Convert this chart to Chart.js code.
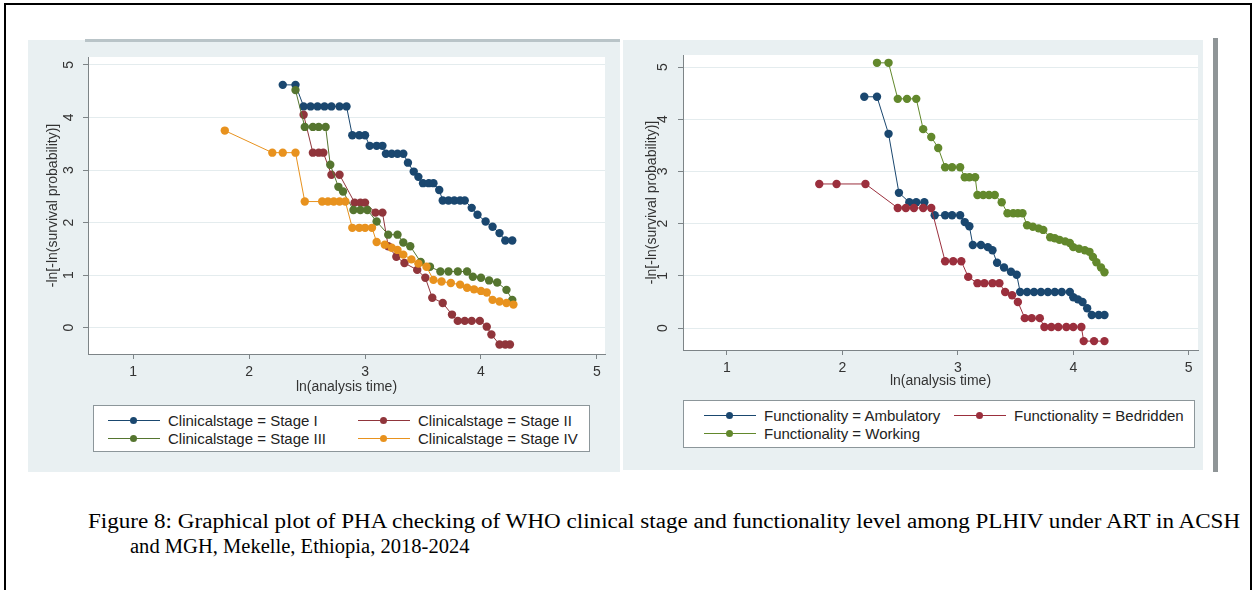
<!DOCTYPE html>
<html lang="en">
<head>
<meta charset="UTF-8">
<title>PHA check plots</title>
<script src="https://cdn.jsdelivr.net/npm/chart.js"></script>
<style>
  body { margin: 0; width: 1259px; height: 590px; background: #fff; position: relative; overflow: hidden;
         font-family: "Liberation Sans", Arial, sans-serif; }
  .frame { position: absolute; left: 4px; top: 3px; width: 1244px; height: 620px; border: 2px solid #000; }
  .panel { position: absolute; background: #e9f0f2; }
  .panel canvas { position: absolute; left: 0; top: 0; }
  .legend { position: absolute; background: #fff; border: 1px solid #8c969a; box-sizing: border-box; font-size: 15px; color: #222; }
  .item { position: absolute; height: 17px; line-height: 17px; white-space: nowrap; }
  .sym { position: absolute; left: 0; top: 0; width: 52px; height: 17px; }
  .sym .ln { position: absolute; left: 0; right: 0; top: 8px; height: 1px; }
  .sym .dt { position: absolute; left: 22px; top: 5px; width: 7px; height: 7px; border-radius: 50%; }
  .item span { position: absolute; left: 60px; top: 0; }
  .caption { position: absolute; font-family: "Liberation Serif", "Times New Roman", serif; font-size: 20px;
             line-height: 24px; color: #000; white-space: nowrap; transform-origin: 0 0; }
</style>
</head>
<body>
  <div class="frame"></div>

  <div class="panel" style="left:28px; top:40px; width:592px; height:432px;">
    <canvas id="stageChart" width="592" height="360"></canvas>
    <div class="legend" id="stageLegend" style="left:65px; top:365px; width:497px; height:47px;"></div>
  </div>
  <div style="position:absolute; left:85px; top:39px; width:535px; height:3px; background:#b9c4c8;"></div>

  <div class="panel" style="left:623px; top:40px; width:580px; height:430px;">
    <canvas id="funcChart" width="580" height="360"></canvas>
    <div class="legend" id="funcLegend" style="left:60px; top:360px; width:512px; height:48px;"></div>
  </div>
  <div style="position:absolute; left:1213px; top:38px; width:5px; height:434px; background:#8f9597;"></div>

  <div class="caption" id="cap1" style="left:88px; top:509px;">Figure 8: Graphical plot of PHA checking of WHO clinical stage and functionality level among PLHIV under ART in ACSH</div>
  <div class="caption" id="cap2" style="left:130px; top:534px;">and MGH, Mekelle, Ethiopia, 2018-2024</div>

<script>
// axis ticks
const xTicks = [1, 2, 3, 4, 5];
const yTicks = [0, 1, 2, 3, 4, 5];

// left panel: WHO clinical stage
const stageLabels = ['Clinicalstage = Stage I', 'Clinicalstage = Stage II', 'Clinicalstage = Stage III', 'Clinicalstage = Stage IV'];
const stage1X = [2.29, 2.40, 2.47, 2.53, 2.59, 2.65, 2.71, 2.78, 2.84, 2.89, 2.95, 3.00, 3.04, 3.10, 3.15, 3.18, 3.23, 3.28, 3.33, 3.37, 3.42, 3.46, 3.50, 3.55, 3.59, 3.64, 3.67, 3.72, 3.77, 3.82, 3.86, 3.92, 3.97, 4.04, 4.10, 4.16, 4.21, 4.27];
const stage1Y = [4.62, 4.62, 4.21, 4.21, 4.21, 4.21, 4.21, 4.21, 4.21, 3.66, 3.66, 3.66, 3.46, 3.46, 3.46, 3.31, 3.31, 3.31, 3.31, 3.14, 2.97, 2.87, 2.75, 2.75, 2.75, 2.62, 2.42, 2.42, 2.42, 2.42, 2.42, 2.28, 2.15, 2.02, 1.92, 1.80, 1.66, 1.66];
const stage2X = [2.47, 2.55, 2.60, 2.64, 2.71, 2.78, 2.91, 2.96, 3.00, 3.09, 3.15, 3.20, 3.27, 3.34, 3.45, 3.52, 3.58, 3.67, 3.75, 3.80, 3.86, 3.92, 3.99, 4.05, 4.09, 4.16, 4.21, 4.25];
const stage2Y = [4.05, 3.33, 3.33, 3.33, 2.91, 2.91, 2.38, 2.38, 2.38, 2.19, 2.19, 1.55, 1.35, 1.23, 1.10, 0.95, 0.57, 0.47, 0.25, 0.13, 0.13, 0.13, 0.13, 0.02, -0.13, -0.32, -0.32, -0.32];
const stage3X = [2.40, 2.48, 2.55, 2.60, 2.66, 2.70, 2.77, 2.81, 2.90, 2.96, 3.02, 3.10, 3.20, 3.28, 3.33, 3.39, 3.48, 3.56, 3.65, 3.72, 3.80, 3.88, 3.93, 4.00, 4.07, 4.14, 4.22, 4.27];
const stage3Y = [4.52, 3.82, 3.82, 3.82, 3.82, 3.10, 2.68, 2.59, 2.24, 2.24, 2.24, 2.02, 1.77, 1.77, 1.62, 1.55, 1.25, 1.16, 1.07, 1.07, 1.07, 1.07, 0.97, 0.95, 0.90, 0.86, 0.72, 0.53];
const stage4X = [1.79, 2.20, 2.29, 2.40, 2.48, 2.63, 2.68, 2.73, 2.78, 2.83, 2.89, 2.95, 3.00, 3.06, 3.10, 3.17, 3.23, 3.28, 3.33, 3.40, 3.46, 3.53, 3.59, 3.66, 3.74, 3.82, 3.88, 3.94, 4.00, 4.05, 4.10, 4.16, 4.22, 4.28];
const stage4Y = [3.75, 3.33, 3.33, 3.33, 2.40, 2.40, 2.40, 2.40, 2.40, 2.40, 1.90, 1.90, 1.90, 1.90, 1.63, 1.58, 1.52, 1.48, 1.39, 1.30, 1.22, 1.16, 0.91, 0.88, 0.85, 0.82, 0.76, 0.73, 0.70, 0.67, 0.53, 0.50, 0.47, 0.44];

// right panel: functionality level
const funcLabels = ['Functionality = Ambulatory', 'Functionality = Bedridden', 'Functionality = Working'];
const ambulX = [2.19, 2.30, 2.40, 2.49, 2.58, 2.64, 2.71, 2.80, 2.89, 2.95, 3.02, 3.06, 3.10, 3.13, 3.20, 3.26, 3.30, 3.34, 3.40, 3.46, 3.51, 3.54, 3.60, 3.66, 3.72, 3.78, 3.84, 3.90, 3.97, 4.00, 4.04, 4.08, 4.12, 4.16, 4.22, 4.27];
const ambulY = [4.43, 4.43, 3.72, 2.59, 2.41, 2.41, 2.41, 2.16, 2.16, 2.16, 2.16, 2.03, 1.95, 1.59, 1.59, 1.55, 1.49, 1.25, 1.16, 1.08, 1.02, 0.69, 0.69, 0.69, 0.69, 0.69, 0.69, 0.69, 0.69, 0.59, 0.55, 0.50, 0.38, 0.25, 0.25, 0.25];
const bedX = [1.80, 1.95, 2.20, 2.48, 2.55, 2.62, 2.70, 2.77, 2.89, 2.96, 3.03, 3.09, 3.17, 3.23, 3.30, 3.36, 3.41, 3.47, 3.52, 3.58, 3.64, 3.71, 3.75, 3.81, 3.87, 3.94, 4.00, 4.07, 4.09, 4.18, 4.27];
const bedY = [2.76, 2.76, 2.76, 2.30, 2.30, 2.30, 2.30, 2.30, 1.28, 1.28, 1.28, 0.98, 0.86, 0.86, 0.86, 0.86, 0.69, 0.63, 0.50, 0.19, 0.19, 0.19, 0.02, 0.02, 0.02, 0.02, 0.02, 0.02, -0.25, -0.25, -0.25];
const workX = [2.30, 2.40, 2.48, 2.56, 2.64, 2.70, 2.77, 2.83, 2.89, 2.95, 3.02, 3.06, 3.10, 3.15, 3.17, 3.22, 3.27, 3.32, 3.38, 3.43, 3.48, 3.52, 3.56, 3.60, 3.65, 3.70, 3.74, 3.80, 3.84, 3.88, 3.93, 3.97, 4.00, 4.05, 4.10, 4.14, 4.17, 4.20, 4.24, 4.27];
const workY = [5.08, 5.08, 4.39, 4.39, 4.39, 3.81, 3.66, 3.45, 3.08, 3.08, 3.08, 2.89, 2.89, 2.89, 2.55, 2.55, 2.55, 2.55, 2.41, 2.20, 2.20, 2.20, 2.20, 1.97, 1.94, 1.91, 1.88, 1.74, 1.72, 1.69, 1.66, 1.63, 1.55, 1.52, 1.49, 1.46, 1.36, 1.26, 1.16, 1.07];

const stageColors = ['#1a476f', '#90353b', '#55752f', '#e8921e'];
const funcColors = ['#1a476f', '#9b2f3d', '#62882c'];

function series(xs, ys, label, color, order) {
    return {
        label: label,
        data: xs.map((x, i) => ({ x: x, y: ys[i] })),
        showLine: true,
        borderColor: color,
        backgroundColor: color,
        pointBackgroundColor: color,
        pointBorderColor: color,
        borderWidth: 1,
        pointRadius: 4.2,
        pointBorderWidth: 0,
        order: order
    };
}

// white plot region
const plotBg = {
    id: 'plotBg',
    beforeDraw(chart) {
        const a = chart.chartArea, c = chart.ctx;
        c.save();
        c.fillStyle = '#fff';
        c.fillRect(a.left, a.top, a.right - a.left, a.bottom - a.top);
        c.restore();
    }
};

// vertical y tick labels, the way stata prints them
const yLabels = {
    id: 'yLabels',
    afterDraw(chart) {
        const s = chart.scales.y, c = chart.ctx;
        const off = chart.options.plugins.yLabels.offset;
        c.save();
        c.font = '14px "Liberation Sans", Arial, sans-serif';
        c.fillStyle = '#333';
        c.textAlign = 'center';
        c.textBaseline = 'middle';
        yTicks.forEach(v => {
            c.save();
            c.translate(s.right - off, s.getPixelForValue(v));
            c.rotate(-Math.PI / 2);
            c.fillText(String(v), 0, 0);
            c.restore();
        });
        c.restore();
    }
};

function build(id, datasets, lim, box) {
    return new Chart(document.getElementById(id), {
        type: 'scatter',
        data: { datasets: datasets },
        options: {
            responsive: false,
            animation: false,
            devicePixelRatio: 1,
            layout: { padding: { left: 0, right: box.right, top: box.top, bottom: 0 } },
            plugins: {
                legend: { display: false },
                tooltip: { enabled: false },
                yLabels: { offset: box.labelOff }
            },
            elements: { line: { tension: 0 } },
            scales: {
                x: {
                    type: 'linear',
                    min: lim.xMin,
                    max: lim.xMax,
                    afterBuildTicks: s => { s.ticks = xTicks.map(v => ({ value: v })); },
                    afterFit: s => { s.height = box.xH; },
                    grid: { drawOnChartArea: false, tickLength: 5, tickColor: '#7d8487' },
                    border: { color: '#7d8487' },
                    ticks: { padding: 5, color: '#333', font: { size: 14 } },
                    title: {
                        display: true, text: 'ln(analysis time)', color: '#333',
                        font: { size: 14 }, padding: { top: 0, bottom: box.xTitlePad }
                    }
                },
                y: {
                    type: 'linear',
                    min: lim.yMin,
                    max: lim.yMax,
                    afterBuildTicks: s => { s.ticks = yTicks.map(v => ({ value: v })); },
                    afterFit: s => { s.width = 60; },
                    grid: { color: '#e4ecee', tickLength: 5, tickColor: '#7d8487' },
                    border: { color: '#7d8487' },
                    ticks: { display: false },
                    title: {
                        display: true, text: '-ln[-ln(survival probability)]', color: '#333',
                        font: { size: 14 }, padding: { top: box.yTitlePad, bottom: 0 }
                    }
                }
            }
        },
        plugins: [plotBg, yLabels]
    });
}

function legend(id, labels, colors, cols) {
    const box = document.getElementById(id);
    labels.forEach((lab, i) => {
        const item = document.createElement('div');
        item.className = 'item';
        item.style.left = cols[i % 2] + 'px';
        item.style.top = (6 + Math.floor(i / 2) * 18) + 'px';
        item.innerHTML = '<div class="sym"><div class="ln" style="background:' + colors[i] + '"></div>' +
            '<div class="dt" style="background:' + colors[i] + '"></div></div><span>' + lab + '</span>';
        box.appendChild(item);
    });
}

const stageSets = [
    series(stage1X, stage1Y, stageLabels[0], stageColors[0], 4),
    series(stage2X, stage2Y, stageLabels[1], stageColors[1], 3),
    series(stage3X, stage3Y, stageLabels[2], stageColors[2], 2),
    series(stage4X, stage4Y, stageLabels[3], stageColors[3], 1)
];
const funcSets = [
    series(ambulX, ambulY, funcLabels[0], funcColors[0], 3),
    series(bedX, bedY, funcLabels[1], funcColors[1], 2),
    series(workX, workY, funcLabels[2], funcColors[2], 1)
];

build('stageChart', stageSets,
    { xMin: 0.61, xMax: 5.07, yMin: -0.5, yMax: 5.15 },
    { top: 17, right: 15, xH: 46, xTitlePad: 4, yTitlePad: 17, labelOff: 19 });
build('funcChart', funcSets,
    { xMin: 0.62, xMax: 5.08, yMin: -0.42, yMax: 5.23 },
    { top: 15, right: 5, xH: 50, xTitlePad: 10, yTitlePad: 21, labelOff: 20 });

legend('stageLegend', stageLabels, stageColors, [14, 264]);
legend('funcLegend', funcLabels, funcColors, [20, 270]);

// stretch the caption lines to the widths they take in the figure
function fit(id, w) {
    const el = document.getElementById(id);
    el.style.transform = 'scaleX(' + (w / el.offsetWidth) + ')';
}
fit('cap1', 1152);
fit('cap2', 340);
</script>
</body>
</html>
